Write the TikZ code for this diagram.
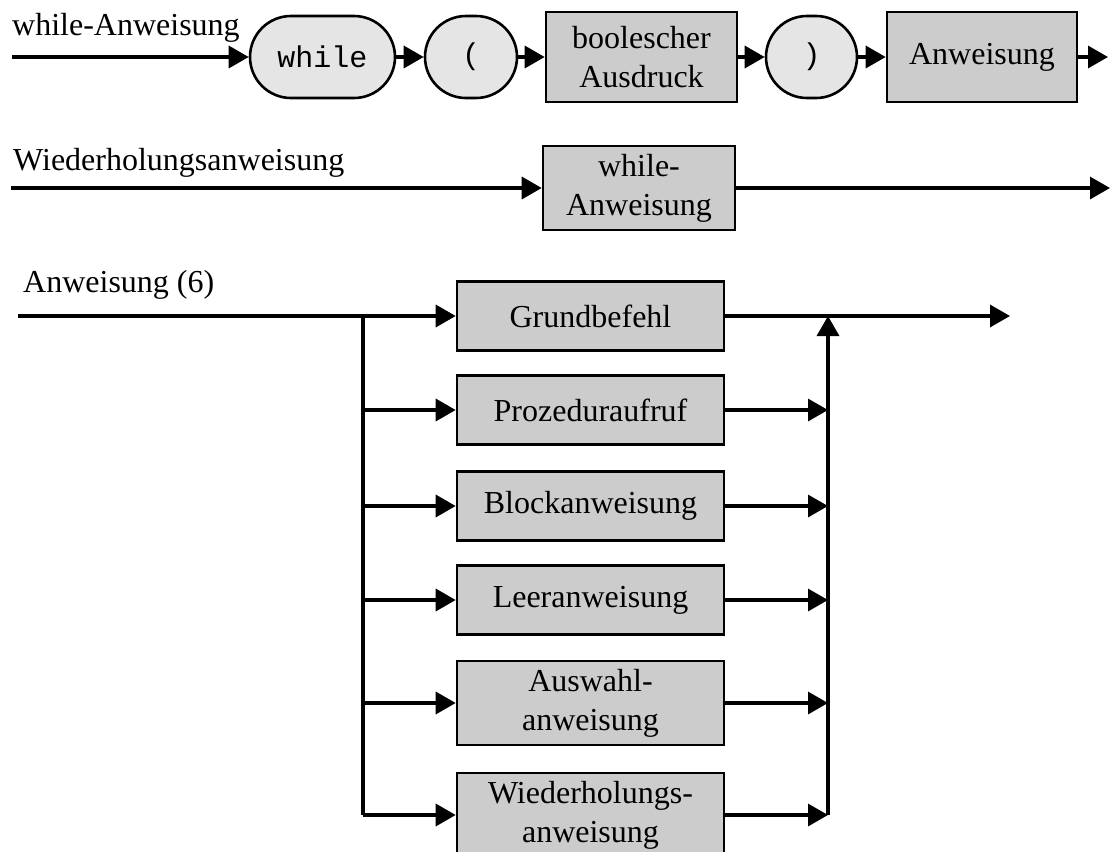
\documentclass[tikz,border=0pt]{standalone}
\usepackage{fontspec}
\setmainfont{Liberation Serif}
\setmonofont{Liberation Mono}
\usetikzlibrary{arrows.meta,shapes.misc}

\begin{document}
\begin{tikzpicture}[x=1pt,y=-1pt,
  txt/.style={font=\fontsize{32}{39}\selectfont},
  label/.style={txt,anchor=base west,inner sep=0pt},
  nonterm/.style={txt,draw=black,line width=2.6pt,fill=black!20,
    rectangle,inner sep=0pt,align=center,minimum height=69pt},
  term/.style={draw=black,line width=2.6pt,fill=black!10,
    rounded rectangle,inner sep=0pt,minimum height=82pt,
    font=\ttfamily\fontsize{30}{36}\selectfont},
  conn/.style={line width=3.4pt,-{Triangle[length=20pt,width=22pt]}},
  wire/.style={line width=3.4pt}]

\useasboundingbox (0,0) rectangle (1112,852);

% --- while-Anweisung ---
\node[label] (l1) at (12,35) {while-Anweisung};
\coordinate (s1) at (12,57);
\coordinate (e1) at (1108,57);
\node[term,minimum width=145pt] (kw) at (322.5,57) {while};
\node[term,minimum width=92pt] (lp) at (471,57) {(};
\node[nonterm,minimum width=191pt,minimum height=90pt] (be) at (641.5,57) {boolescher\\Ausdruck};
\node[term,minimum width=91pt] (rp) at (811.5,57) {)};
\node[nonterm,minimum width=190pt,minimum height=90pt] (an) at (982,57) {Anweisung};
\draw[conn] (s1) -- (kw.west);
\draw[conn] (kw.east) -- (lp.west);
\draw[conn] (lp.east) -- (be.west);
\draw[conn] (be.east) -- (rp.west);
\draw[conn] (rp.east) -- (an.west);
\draw[conn] (an.east) -- (e1);

% --- Wiederholungsanweisung ---
\node[label] (l2) at (13,170) {Wiederholungsanweisung};
\coordinate (s2) at (11,188);
\coordinate (e2) at (1110,188);
\node[nonterm,minimum width=192pt,minimum height=84pt] (wa) at (639,188) {while-\\Anweisung};
\draw[conn] (s2) -- (wa.west);
\draw[conn] (wa.east) -- (e2);

% --- Anweisung (6) ---
\node[label] (l3) at (23,292) {Anweisung (6)};
\coordinate (s3) at (18,316);
\coordinate (e3) at (1010,316);
\node[nonterm,minimum width=267pt] (gb) at (590.5,316) {Grundbefehl};
\node[nonterm,minimum width=267pt] (pa) at (590.5,410) {Prozeduraufruf};
\node[nonterm,minimum width=267pt] (ba) at (590.5,506) {Blockanweisung};
\node[nonterm,minimum width=267pt] (la) at (590.5,600) {Leeranweisung};
\node[nonterm,minimum width=267pt,minimum height=84pt] (aw) at (590.5,703) {Auswahl-\\anweisung};
\node[nonterm,minimum width=267pt,minimum height=84pt] (wh) at (590.5,815) {Wiederholungs-\\anweisung};

% fork and join lines
\coordinate (ft) at (363,316);
\coordinate (fb) at (363,815);
\coordinate (jt) at (828,316);
\coordinate (jb) at (828,815);

\draw[conn] (s3) -- (gb.west);
\draw[conn] (gb.east) -- (e3);
\draw[wire] (ft) -- (fb);
\draw[conn] (jb) -- (jt);

\foreach \n in {pa,ba,la,aw,wh}{
  \draw[conn] (ft |- \n.west) -- (\n.west);
  \draw[conn] (\n.east) -- (jt |- \n.east);
}
\end{tikzpicture}
\end{document}
